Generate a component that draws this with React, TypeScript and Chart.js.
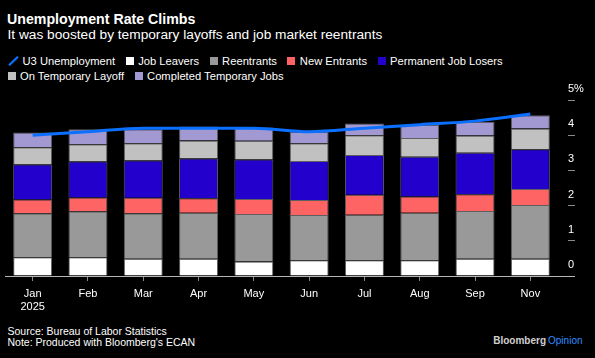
import React, { useEffect, useRef } from "react";
import { Chart, registerables } from "chart.js";

Chart.register(...registerables);

const categories: (string | string[])[] = [["Jan", "2025"], "Feb", "Mar", "Apr", "May", "Jun", "Jul", "Aug", "Sep", "Nov"];
const jobLeavers = [0.53, 0.53, 0.49, 0.49, 0.41, 0.45, 0.45, 0.45, 0.49, 0.49];
const reentrants = [1.25, 1.31, 1.29, 1.31, 1.35, 1.28, 1.29, 1.35, 1.36, 1.53];
const newEntrants = [0.39, 0.39, 0.44, 0.41, 0.43, 0.43, 0.57, 0.46, 0.47, 0.45];
const permanentJobLosers = [1.0, 1.02, 1.06, 1.13, 1.12, 1.11, 1.13, 1.13, 1.18, 1.13];
const onTemporaryLayoff = [0.49, 0.49, 0.49, 0.51, 0.53, 0.5, 0.56, 0.53, 0.49, 0.59];
const completedTemporaryJobs = [0.42, 0.43, 0.4, 0.4, 0.38, 0.33, 0.33, 0.37, 0.39, 0.38];
const u3Unemployment = [4.0, 4.1, 4.2, 4.2, 4.2, 4.1, 4.2, 4.3, 4.4, 4.6];

const yTickValues = [0, 1, 2, 3, 4, 5];
const yTickLabels = ["0", "1", "2", "3", "4", "5%"];

const seriesNames = ["Job Leavers", "Reentrants", "New Entrants", "Permanent Job Losers", "On Temporary Layoff", "Completed Temporary Jobs"];
const seriesColors = ["#ffffff", "#999999", "#ff6464", "#2300cc", "#c1c1c1", "#a399d2"];
const seriesData = [jobLeavers, reentrants, newEntrants, permanentJobLosers, onTemporaryLayoff, completedTemporaryJobs];
const lineName = "U3 Unemployment";
const lineColor = "#0b6fff";

const FONT = "'Liberation Sans', Arial, Helvetica, sans-serif";

function LegendItem({ label, color, line }: { label: string; color: string; line?: boolean }) {
  return (
    <div style={{ display: "flex", alignItems: "center", marginRight: 10.5 }}>
      {line ? (
        <svg width={11} height={10} style={{ marginRight: 4, display: "block" }}>
          <line x1={1} y1={9.3} x2={10} y2={0.7} stroke={color} strokeWidth={2.2} />
        </svg>
      ) : (
        <div style={{ width: 8, height: 8, background: color, marginRight: 4.5 }} />
      )}
      <span>{label}</span>
    </div>
  );
}

export default function App() {
  const canvasRef = useRef<HTMLCanvasElement | null>(null);

  useEffect(() => {
    document.body.style.margin = "0";
    document.body.style.background = "#000";
    const canvas = canvasRef.current;
    if (!canvas) return;
    Chart.defaults.font.family = FONT;

    const barDatasets = seriesData.map((d, i) => ({
      type: "bar" as const,
      label: seriesNames[i],
      data: d,
      backgroundColor: seriesColors[i],
      borderColor: "#5e5e5e",
      borderWidth: 1,
      stack: "bars",
      order: 1,
      categoryPercentage: 1,
      barPercentage: 0.705,
    }));

    const chart = new Chart(canvas, {
      type: "bar",
      data: {
        labels: categories,
        datasets: [
          {
            type: "line" as const,
            label: lineName,
            data: u3Unemployment,
            borderColor: lineColor,
            borderWidth: 3,
            tension: 0.4,
            cubicInterpolationMode: "monotone",
            pointRadius: 0,
            fill: false,
            stack: "line",
            order: 0,
          } as any,
          ...barDatasets,
        ],
      },
      options: {
        animation: false,
        responsive: false,
        maintainAspectRatio: false,
        layout: { padding: { left: 5, top: 20, right: 0, bottom: 0 } },
        plugins: {
          legend: { display: false },
          tooltip: { enabled: false },
          title: { display: false },
        },
        scales: {
          x: {
            stacked: true,
            grid: {
              display: true,
              drawOnChartArea: false,
              drawTicks: true,
              tickLength: 5,
              offset: false,
              tickColor: "#8a8a8a",
            },
            border: { display: true, color: "#b5b5b5", width: 1 },
            ticks: {
              color: "#ffffff",
              font: { family: FONT, size: 11 },
              padding: 6,
              maxRotation: 0,
              autoSkip: false,
            },
            afterFit: (s: any) => {
              s.height = 44;
            },
          },
          y: {
            position: "right",
            stacked: true,
            min: 0,
            max: 5,
            afterBuildTicks: (s: any) => {
              s.ticks = yTickValues.map((v) => ({ value: v }));
            },
            grid: {
              drawOnChartArea: false,
              drawTicks: true,
              tickLength: 17,
              tickColor: (ctx: any) => (ctx.tick && ctx.tick.value === 0 ? "#b5b5b5" : "#8a8a8a"),
              tickBorderDash: (ctx: any) => (ctx.tick && ctx.tick.value === 0 ? [] : [0, 10, 7, 0]),
            },
            border: { display: false },
            ticks: {
              color: "#ffffff",
              font: { family: FONT, size: 11 },
              padding: -7,
              labelOffset: -11,
              callback: (v: any) => {
                const idx = yTickValues.indexOf(Number(v));
                return idx >= 0 ? yTickLabels[idx] : "";
              },
            },
            afterFit: (s: any) => {
              s.width = 37;
            },
          },
        },
      } as any,
    });
    return () => chart.destroy();
  }, []);

  return (
    <div
      style={{
        position: "relative",
        width: 595,
        height: 358,
        background: "#000",
        overflow: "hidden",
        fontFamily: FONT,
        color: "#fff",
      }}
    >
      <div style={{ position: "absolute", left: 7, top: 11, fontSize: 14.2, lineHeight: "16px", fontWeight: 700, whiteSpace: "nowrap" }}>
        Unemployment Rate Climbs
      </div>
      <div style={{ position: "absolute", left: 7.5, top: 26.5, fontSize: 13.7, lineHeight: "16px", whiteSpace: "nowrap" }}>
        It was boosted by temporary layoffs and job market reentrants
      </div>
      <div style={{ position: "absolute", left: 7.5, top: 53.7, display: "flex", fontSize: 11.2, lineHeight: "15px", whiteSpace: "nowrap" }}>
        <LegendItem label={lineName} color={lineColor} line />
        {seriesNames.slice(0, 4).map((n, i) => (
          <LegendItem key={n} label={n} color={seriesColors[i]} />
        ))}
      </div>
      <div style={{ position: "absolute", left: 7.5, top: 68.7, display: "flex", fontSize: 11.2, lineHeight: "15px", whiteSpace: "nowrap" }}>
        {seriesNames.slice(4).map((n, i) => (
          <LegendItem key={n} label={n} color={seriesColors[i + 4]} />
        ))}
      </div>
      <canvas
        ref={canvasRef}
        width={595}
        height={240}
        style={{ position: "absolute", left: 0, top: 80, width: 595, height: 240 }}
      />
      <div style={{ position: "absolute", left: 7.5, top: 324.7, fontSize: 10.5, lineHeight: "13px", whiteSpace: "nowrap" }}>
        Source: Bureau of Labor Statistics
      </div>
      <div style={{ position: "absolute", left: 7.5, top: 336.4, fontSize: 10.5, lineHeight: "13px", whiteSpace: "nowrap" }}>
        Note: Produced with Bloomberg's ECAN
      </div>
      <div style={{ position: "absolute", right: 12.5, top: 334.5, fontSize: 10, lineHeight: "12px", whiteSpace: "nowrap" }}>
        <span style={{ fontWeight: 700, color: "#d0d0d0" }}>Bloomberg</span>
        <span style={{ color: "#2f8cff", marginLeft: 2 }}>Opinion</span>
      </div>
    </div>
  );
}
